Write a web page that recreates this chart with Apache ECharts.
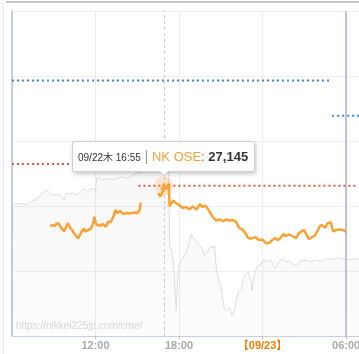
<!DOCTYPE html>
<html><head><meta charset="utf-8">
<script src="https://cdn.jsdelivr.net/npm/echarts@6/dist/echarts.min.js"></script>
<style>html,body{margin:0;padding:0;background:#fff;}#c{width:359px;height:354px;}</style>
</head><body><div id="c"></div>
<script>
// ---- NK OSE (orange) ----
const nkTimes = [
'09/22 08:45','09/22 08:55','09/22 09:05','09/22 09:10','09/22 09:20','09/22 09:30','09/22 09:35','09/22 09:45','09/22 09:50','09/22 10:00',
'09/22 10:10','09/22 10:20','09/22 10:30','09/22 10:35','09/22 10:45','09/22 10:50','09/22 11:00','09/22 11:05','09/22 11:10','09/22 11:15',
'09/22 11:25','09/22 11:30','09/22 11:40','09/22 11:45','09/22 11:50','09/22 11:55','09/22 12:00','09/22 12:05','09/22 12:10','09/22 12:20',
'09/22 12:30','09/22 12:35','09/22 12:45','09/22 12:55','09/22 13:05','09/22 13:10','09/22 13:20','09/22 13:25','09/22 13:35','09/22 13:45',
'09/22 13:50','09/22 14:00','09/22 14:05','09/22 14:15','09/22 14:25','09/22 14:30','09/22 14:45','09/22 15:00','09/22 15:05','09/22 15:10',
'09/22 15:15','09/22 15:50',
'09/22 16:30','09/22 16:40','09/22 16:45','09/22 16:50','09/22 16:55','09/22 17:00','09/22 17:05','09/22 17:10','09/22 17:15','09/22 17:20',
'09/22 17:25','09/22 17:35','09/22 17:45','09/22 17:50','09/22 18:00','09/22 18:05','09/22 18:15','09/22 18:20','09/22 18:30','09/22 18:35',
'09/22 18:45','09/22 18:50','09/22 19:00','09/22 19:05','09/22 19:15','09/22 19:20','09/22 19:30','09/22 19:40','09/22 19:45','09/22 19:55',
'09/22 20:00','09/22 20:10','09/22 20:15','09/22 20:25','09/22 20:30','09/22 20:40','09/22 20:45','09/22 20:55','09/22 21:00','09/22 21:10',
'09/22 21:15','09/22 21:25','09/22 21:35','09/22 21:40','09/22 21:50','09/22 21:55','09/22 22:05','09/22 22:10','09/22 22:20','09/22 22:25',
'09/22 22:35','09/22 22:40','09/22 22:50','09/22 22:55','09/22 23:05','09/22 23:10','09/22 23:20','09/22 23:30','09/22 23:40','09/22 23:50',
'09/23 00:00','09/23 00:05','09/23 00:15','09/23 00:20','09/23 00:30','09/23 00:35','09/23 00:45','09/23 00:55','09/23 01:00','09/23 01:05',
'09/23 01:15','09/23 01:20','09/23 01:30','09/23 01:40','09/23 01:45','09/23 01:55','09/23 02:00','09/23 02:10','09/23 02:15','09/23 02:25',
'09/23 02:35','09/23 02:40','09/23 02:50','09/23 03:00','09/23 03:10','09/23 03:20','09/23 03:30','09/23 03:35','09/23 03:45','09/23 03:50',
'09/23 04:00','09/23 04:05','09/23 04:15','09/23 04:20','09/23 04:30','09/23 04:40','09/23 04:45','09/23 04:55','09/23 05:00','09/23 05:05',
'09/23 05:15','09/23 05:25','09/23 05:35','09/23 05:45','09/23 05:55','09/23 06:00'];
const nkValues = [
27021,27024,27021,27028,27030,27018,27014,27005,26999,27030,
27017,27009,26996,26991,26983,26978,27004,27010,27014,27004,
27008,27011,27013,27014,27030,27050,27033,27025,27030,27022,
27028,27030,27019,27035,27033,27040,27055,27071,27061,27068,
27066,27058,27064,27062,27060,27062,27063,27061,27066,27071,
27093,null,
27122,27112,27117,27128,27145,27137,27134,27140,27153,27081,
27090,27099,27093,27096,27086,27081,27077,27071,27080,27076,
27073,27071,27082,27079,27072,27076,27089,27080,27076,27084,
27081,27068,27061,27050,27045,27038,27035,27042,27040,27036,
27032,27042,27038,27035,27040,27045,27035,27030,27015,27009,
27010,27007,26995,26987,26982,26984,26985,26987,26980,26978,
26980,26975,26968,26963,26970,26973,26980,26984,26982,26978,
26983,26984,26997,26990,26988,26996,26999,26990,26988,26984,
26998,27004,27006,27009,26994,26981,26986,26987,26992,26994,
27010,27019,27025,27027,27016,27030,27035,27032,27015,27004,
27009,27010,27011,27009,27007,27002];

// ---- USD/JPY (grey background area) ----
const fxTimes = [
'09/22 06:00','09/22 06:30','09/22 07:00','09/22 07:20','09/22 07:50','09/22 08:10','09/22 08:30','09/22 08:45','09/22 09:05','09/22 09:30',
'09/22 09:45','09/22 09:55','09/22 10:10','09/22 10:25','09/22 10:40','09/22 10:55','09/22 11:10','09/22 11:25','09/22 11:40','09/22 11:55',
'09/22 12:00','09/22 12:05','09/22 12:20','09/22 12:35','09/22 12:55','09/22 13:10','09/22 13:35','09/22 13:55','09/22 14:15','09/22 14:40',
'09/22 15:00','09/22 15:20','09/22 15:45','09/22 16:20','09/22 16:40','09/22 17:00','09/22 17:15','09/22 17:20','09/22 17:27','09/22 17:35',
'09/22 17:42','09/22 17:48','09/22 17:53','09/22 17:57','09/22 18:09','09/22 18:35','09/22 18:52','09/22 19:02','09/22 19:14','09/22 19:28',
'09/22 19:37','09/22 19:49','09/22 20:04','09/22 20:18','09/22 20:26','09/22 20:33','09/22 20:40','09/22 20:51','09/22 21:02','09/22 21:09',
'09/22 21:16','09/22 21:26','09/22 21:37','09/22 21:49','09/22 21:59','09/22 22:06','09/22 22:18','09/22 22:28','09/22 22:42','09/22 22:57',
'09/22 23:04','09/22 23:11','09/22 23:15','09/22 23:25','09/22 23:40','09/22 23:54','09/23 00:09','09/23 00:19','09/23 00:30','09/23 00:42',
'09/23 00:52','09/23 01:02','09/23 01:13','09/23 01:28','09/23 01:42','09/23 01:57','09/23 02:11','09/23 02:26','09/23 02:40','09/23 03:01',
'09/23 03:30','09/23 03:52','09/23 04:14','09/23 04:35','09/23 05:04','09/23 05:25','09/23 05:47','09/23 06:08','09/23 06:30','09/23 06:59'];
const fxValues = [
144.52,144.58,144.54,144.64,144.77,144.96,145.08,144.93,144.89,144.89,
144.71,144.96,144.93,144.96,144.89,145.02,145.14,145.02,145.11,145.14,
145.01,145.53,145.52,145.46,145.52,145.48,145.52,145.58,145.52,145.64,
145.72,145.76,145.79,145.83,145.87,145.91,145.91,142.95,142.83,142.45,
141.45,140.58,141.59,142.20,142.43,142.80,143.43,143.28,143.18,142.99,
142.94,142.61,142.80,142.99,142.90,142.99,142.18,141.68,141.43,140.93,
140.61,140.55,140.68,140.36,140.55,140.93,141.30,141.36,141.86,141.99,
141.93,141.68,141.30,141.93,142.24,142.30,142.49,142.37,142.45,142.37,
142.12,142.24,142.43,142.49,142.37,142.42,142.30,142.24,142.40,142.45,
142.40,142.45,142.40,142.49,142.49,142.53,142.49,142.45,142.49,142.49];

// ---- reference levels (dotted) ----
const refStart = ['09/22 06:00','09/22 15:05','09/22 06:00','09/23 05:00'];
const refEnd   = ['09/22 15:05','09/23 06:45','09/23 05:00','09/23 07:00'];
const refValues = [27212, 27145, 27469, 27361];
const refColors = ['#e8543f','#e8543f','#3d86e0','#3d86e0'];

// ---- axis ticks ----
const tickTimes = ['09/22 12:00','09/22 18:00','09/23 00:00','09/23 06:00'];
const tickLabels = ['12:00','18:00','【09/23】','06:00'];
const nowTime = '09/23 06:00';
const hoverTime = '09/22 16:55';
const seriesName = 'NK OSE';

function toMin(s){
  const [d,t] = s.split(' ');
  const day = +d.split('/')[1];
  const [h,m] = t.split(':').map(Number);
  return (day-22)*1440 + h*60 + m - 360;
}
const nkData = nkTimes.map((t,i)=>[toMin(t), nkValues[i]===null ? '-' : nkValues[i]]);
const fxData = fxTimes.map((t,i)=>[toMin(t), fxValues[i]]);
const hoverIdx = nkTimes.indexOf(hoverTime);
const hoverVal = nkValues[hoverIdx];
const wd = ['日','月','火','水','木','金','土'][new Date(2022, 8, +hoverTime.split(' ')[0].split('/')[1]).getDay()];

const FONT = "'Liberation Sans', Arial, 'Noto Sans CJK JP', sans-serif";
const chart = echarts.init(document.getElementById('c'));

const refSeries = refValues.map((v,i)=>({
  type:'line', yAxisIndex:0, symbol:'none', silent:true, z:3,
  data:[[toMin(refStart[i]), v],[toMin(refEnd[i]), v]],
  lineStyle:{color:refColors[i], width:2, type:[2,3]}
}));

chart.setOption({
  animation:false,
  textStyle:{fontFamily:FONT},
  grid:{left:12, right:-1, top:11, bottom:18, outerBoundsMode:'none', containLabel:false},
  tooltip:{
    trigger:'item', triggerOn:'none', alwaysShowContent:true, position:'top',
    transitionDuration:0, backgroundColor:'#fff', borderColor:'#cfcfcf', borderWidth:1,
    padding:[5,6,5,5],
    textStyle:{fontFamily:FONT, fontSize:13, lineHeight:17, color:'#333'},
    extraCssText:'box-shadow:1px 2px 4px rgba(0,0,0,0.22);border-radius:2px;',
    formatter:function(){
      const d = hoverTime.split(' ');
      return '<span style="font-size:10px;color:#333">'+d[0]+wd+' '+d[1]+'</span> '+
        '<span style="font-size:15px;color:#999">|</span> '+
        '<span style="color:#f7a035">'+seriesName+'</span><span style="color:#777">: </span>'+
        '<span style="font-weight:bold;color:#333">'+hoverVal.toLocaleString('en-US')+'</span>';
    }
  },
  xAxis:{
    type:'value', min:0, max:1500, interval:360,
    axisLine:{lineStyle:{color:'#c9cee0', width:1}},
    axisTick:{show:true, length:3, lineStyle:{color:'#bbb'}},
    splitLine:{show:true, lineStyle:{color:'#ececec', width:1}},
    axisLabel:{
      showMinLabel:false, showMaxLabel:false, margin:4, hideOverlap:false,
      color:'#aaa', fontSize:11, fontWeight:'bold', fontFamily:FONT,
      formatter:function(v){
        const i = tickTimes.findIndex(t=>toMin(t)===v);
        if(i<0) return '';
        return tickLabels[i].indexOf('【')===0 ? '{d|'+tickLabels[i]+'}' : tickLabels[i];
      },
      rich:{d:{color:'#f07c00', fontSize:11, fontWeight:'bold', fontFamily:FONT}}
    }
  },
  yAxis:[
    {type:'value', min:26683, max:27683, show:false},
    {type:'value', min:139.6, max:151.8, show:false},
    {type:'value', min:0, max:5, interval:1, position:'left',
     axisLine:{show:true, lineStyle:{color:'#b5bcda', width:1.5}},
     axisTick:{show:false}, axisLabel:{show:false},
     splitLine:{show:true, lineStyle:{color:'#f0f0f0'}}}
  ],
  graphic:[
    {type:'rect', left:6, top:1, shape:{width:353, height:2}, style:{fill:'#c8c8c8'}, silent:true},
    {type:'rect', left:3, top:3, shape:{width:1, height:351}, style:{fill:'#e6e6e6'}, silent:true},
    {type:'text', left:16, top:321, style:{text:'https://nikkei225jp.com/cme/', fill:'#d9d9d9', font:'10px '+FONT}, silent:true}
  ],
  series:[
    {type:'line', name:'USD/JPY', yAxisIndex:1, symbol:'none', silent:true, z:1,
     data:fxData, lineStyle:{color:'#dcdcdc', width:1},
     areaStyle:{color:new echarts.graphic.LinearGradient(0,0,0,1,[{offset:0,color:'rgba(0,0,0,0.045)'},{offset:1,color:'rgba(0,0,0,0.015)'}]), origin:'start'},
     tooltip:{show:false}},
    ...refSeries,
    {type:'line', name:seriesName, yAxisIndex:0, symbol:'none', silent:true, z:4,
     data:nkData, connectNulls:false, lineStyle:{color:'#f9a233', width:2.5},
     tooltip:{show:false},
     markLine:{silent:true, symbol:'none', label:{show:false},
       data:[
         {xAxis:toMin(nowTime), lineStyle:{color:'#aab2cf', width:1.5, type:'solid'}},
         {xAxis:toMin(hoverTime), lineStyle:{color:'#c9c9c9', width:1, type:[3,3]}}
       ]}},
    {type:'scatter', yAxisIndex:0, symbol:'circle', symbolSize:19, silent:true, z:5,
     itemStyle:{color:'rgba(247,160,53,0.28)'}, data:[[toMin(hoverTime), hoverVal]], tooltip:{show:false}},
    {type:'scatter', name:seriesName, yAxisIndex:0, symbol:'triangle', symbolSize:8, z:6,
     itemStyle:{color:'#f7a035'}, data:[[toMin(hoverTime), hoverVal]]}
  ]
});
const trIdx = chart.getOption().series.length - 1;
chart.dispatchAction({type:'showTip', seriesIndex:trIdx, dataIndex:0});
</script></body></html>
